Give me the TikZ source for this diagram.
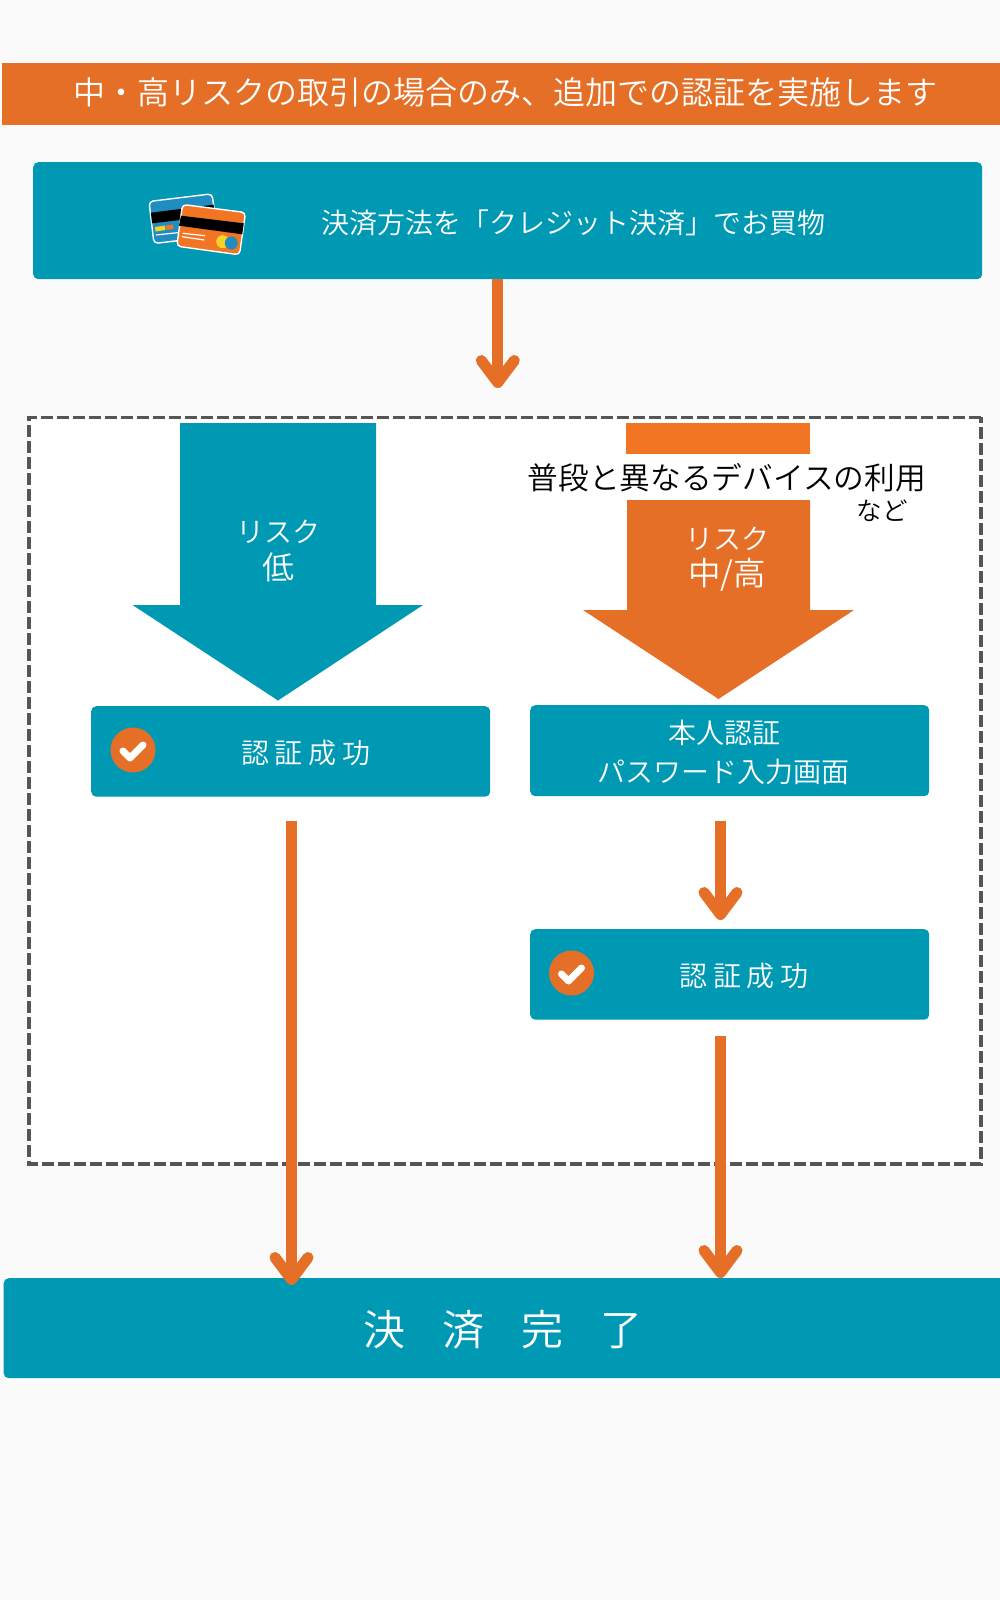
\documentclass[tikz,border=0pt]{standalone}
\usepackage{fontspec}
\usetikzlibrary{arrows.meta,calc}
\newfontfamily\jpfont{Noto Sans CJK JP}[UprightFont=* DemiLight]
\definecolor{teal1}{HTML}{0099B4}
\definecolor{orange1}{HTML}{E56F27}
\definecolor{orange2}{HTML}{F27524}
\definecolor{page}{HTML}{FAFAFA}
\definecolor{dashgrey}{HTML}{555555}
\definecolor{cardblue}{HTML}{1F8DC0}
\definecolor{cardyellow}{HTML}{F5D327}
\newcommand{\fs}[1]{\fontsize{#1}{#1}\selectfont}
\tikzset{
  panel/.style={fill=teal1,rounded corners=5pt,inner sep=0pt,anchor=north west},
  label/.style={text=white,inner sep=0pt,font=\jpfont},
  flow/.style={draw=orange1,line width=11pt,
    -{Straight Barb[round,length=22pt,width=33pt,line width=11pt]}},
  badge/.style={circle,fill=orange1,minimum size=45pt,inner sep=0pt},
  tick/.style={draw=white,line width=7pt,line cap=round,line join=round},
  cardedge/.style={draw=white,line width=1.4pt,rounded corners=4pt},
  cardline/.style={draw=white,line width=1.2pt},
}
\begin{document}
\begin{tikzpicture}[x=1pt,y=-1pt]
\useasboundingbox (0,0) rectangle (1000,1600);
\clip (0,0) rectangle (1000,1600);
\fill[page] (0,0) rectangle (1000,1600);

% Heading band
\node[fill=orange1,inner sep=0pt,anchor=north west,minimum width=998pt,minimum height=62pt] (band) at (2,63) {};
\node[label,font=\jpfont\fs{32}] (bandtext) at (505,92.5) {中・高リスクの取引の場合のみ、追加での認証を実施します};

% Payment panel
\node[panel,minimum width=949pt,minimum height=117pt] (pay) at (33,162) {};
\node[label,font=\jpfont\fs{28}] (paytext) at (573,223) {決済方法を「クレジット決済」でお買物};

% Credit cards
\filldraw[cardedge,fill=cardblue] (149,201.5) -- (212,193.8) -- (218,236) -- (154,243.5) -- cycle;
\fill[black] (151,212.7) -- (213.6,204.7) -- (215,216) -- (152,223.3) -- cycle;
\fill[cardyellow] (155,227) -- (165,225.5) -- (165.5,230) -- (155.5,231.5) -- cycle;
\fill[orange2] (166,225.5) -- (173,224.5) -- (173.5,229) -- (166.5,230) -- cycle;
\draw[cardline] (156,235) -- (184,232);
\filldraw[cardedge,fill=orange2] (182.5,204.5) -- (245.5,212.5) -- (239.5,254.8) -- (176.8,246.2) -- cycle;
\fill[black] (181,215.7) -- (243.8,223.3) -- (242.2,234.3) -- (179,225.7) -- cycle;
\draw[cardline] (182.7,233.3) -- (205,235.7);
\draw[cardline] (182,236.7) -- (204.3,240);
\fill[cardyellow] (222.7,241.7) circle (6.5);
\fill[cardblue] (231.3,243) circle (6.5);

% Dashed risk area
\filldraw[draw=dashgrey,fill=white,line width=3.5pt,dash pattern=on 12pt off 4pt] (981,417.3) -- (29,417.3) -- (29,1164) -- (981,1164) -- cycle;

% Low-risk block arrow
\fill[teal1] (180,423) -- (376,423) -- (376,605) -- (423,605) -- (278,700.5) -- (132.5,605) -- (180,605) -- cycle;
\node[label,font=\jpfont\fs{28}] (lowa) at (278,532) {リスク};
\node[label,font=\jpfont\fs{32}] (lowb) at (278,567.5) {低};

% Medium/high-risk block arrow and its caption
\fill[orange2] (626,423) rectangle (810,454);
\fill[orange1] (627,500) -- (810,500) -- (810,610) -- (854,610) -- (718.5,699) -- (583,610) -- (627,610) -- cycle;
\node[inner sep=0pt,font=\jpfont\fs{30.7}] (usual) at (726.8,478) {普段と異なるデバイスの利用};
\node[inner sep=0pt,font=\jpfont\fs{25.5}] (etc) at (882,510.5) {など};
\node[label,font=\jpfont\fs{28}] (higha) at (727,538.5) {リスク};
\node[label,font=\jpfont\fs{32.5}] (highb) at (727,575) {中/高};

% Result panels
\node[panel,minimum width=399pt,minimum height=90.5pt] (okleft) at (91,706) {};
\node[badge] (badgeleft) at (133,750) {};
\draw[tick] ($(badgeleft)+(-10,1)$) -- ($(badgeleft)+(-3,8)$) -- ($(badgeleft)+(10,-5)$);
\node[label,font=\jpfont\fs{28}] (oklefttext) at (306,753) {認\hspace{6pt}証\hspace{6pt}成\hspace{6pt}功};

\node[panel,minimum width=399pt,minimum height=91pt] (auth) at (530,705) {};
\node[label,font=\jpfont\fs{28}] (autha) at (724,732.5) {本人認証};
\node[label,font=\jpfont\fs{28}] (authb) at (723.5,772) {パスワード入力画面};

\node[panel,minimum width=399pt,minimum height=90.5pt] (okright) at (530,929) {};
\node[badge] (badgeright) at (571.5,973) {};
\draw[tick] ($(badgeright)+(-10,1)$) -- ($(badgeright)+(-3,8)$) -- ($(badgeright)+(10,-5)$);
\node[label,font=\jpfont\fs{28}] (okrighttext) at (744,976) {認\hspace{6pt}証\hspace{6pt}成\hspace{6pt}功};

% Completion panel
\node[panel,minimum width=1010pt,minimum height=100pt] (done) at (3.5,1278) {};
\node[label,font=\jpfont\fs{42}] (donetext) at (503,1330) {決\hspace{37pt}済\hspace{37pt}完\hspace{37pt}了};

% Connectors
\coordinate (paytip) at (497.8,388);
\coordinate (leftstart) at (291.5,820.5);
\coordinate (lefttip) at (291.5,1285);
\coordinate (midstart) at (720.5,820.5);
\coordinate (midtip) at (720.5,920);
\coordinate (rightstart) at (720.5,1036);
\coordinate (righttip) at (720.5,1278);
\draw[flow] (pay.south -| paytip) -- (paytip);
\draw[flow] (leftstart) -- (lefttip);
\draw[flow] (midstart) -- (midtip);
\draw[flow] (rightstart) -- (righttip);
\end{tikzpicture}
\end{document}
